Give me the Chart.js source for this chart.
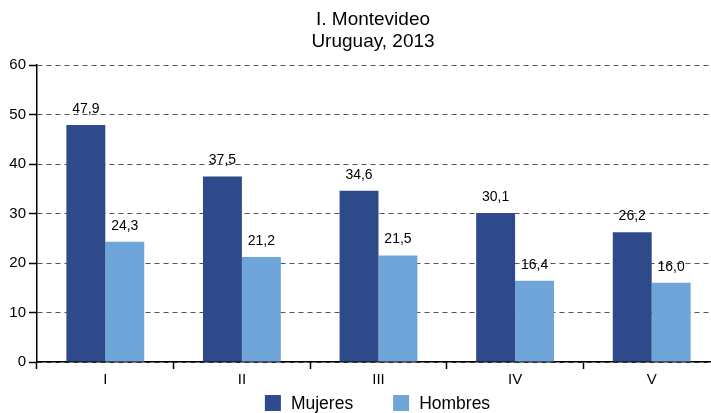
<!DOCTYPE html>
<html><head><meta charset="utf-8">
<script src="https://cdn.jsdelivr.net/npm/chart.js@4/dist/chart.umd.min.js"></script>
<style>html,body{margin:0;padding:0;background:#fff;overflow:hidden}#w{width:711px;height:413px;overflow:hidden}</style>
</head><body><div id="w"><canvas id="c" width="720" height="413"></canvas></div>
<script>
const categories = ['I','II','III','IV','V'];
const mujeres = [47.9, 37.5, 34.6, 30.1, 26.2];
const hombres = [24.3, 21.2, 21.5, 16.4, 16.0];
const yTicks = [0,10,20,30,40,50,60];
const titleLines = ['I. Montevideo','Uruguay, 2013'];
const seriesNames = ['Mujeres','Hombres'];
const seriesColors = ['#2E4A8A','#6FA5D9'];

const FONT = "'Liberation Sans', Arial, sans-serif";
const VISIBLE_WIDTH = 711;
const labelPlugin = {
  id:'vlabels',
  afterDatasetsDraw(chart){
    const ctx = chart.ctx;
    ctx.save();
    ctx.font = '14px ' + FONT;
    ctx.fillStyle = '#000';
    ctx.textAlign = 'center';
    ctx.textBaseline = 'bottom';
    chart.data.datasets.forEach((ds,i)=>{
      chart.getDatasetMeta(i).data.forEach((bar,j)=>{
        ctx.fillText(ds.data[j].toFixed(1).replace('.',','), bar.x, bar.y - 9);
      });
    });
    ctx.restore();
  }
};
const titlePlugin = {
  id:'customTitle',
  afterDraw(chart){
    const ctx = chart.ctx;
    const area = chart.chartArea;
    ctx.save();
    ctx.font = '19px ' + FONT;
    ctx.fillStyle = '#000';
    ctx.textAlign = 'center';
    ctx.textBaseline = 'middle';
    const cx = (area.left + VISIBLE_WIDTH) / 2 - 1;
    titleLines.forEach((t,i)=> ctx.fillText(t, cx, 20 + i*22));
    ctx.restore();
  }
};
const legendPlugin = {
  id:'customLegend',
  afterDraw(chart){
    const ctx = chart.ctx;
    const area = chart.chartArea;
    ctx.save();
    ctx.font = '17.5px ' + FONT;
    const box = 16, gapBT = 10, gapItems = 40;
    const items = chart.data.datasets.map(d=>({text:d.label,color:d.backgroundColor,w:ctx.measureText(d.label).width}));
    let total = items.reduce((s,it)=>s+box+gapBT+it.w,0) + gapItems*(items.length-1);
    let x = (area.left + area.right)/2 - total/2 - 1;
    const cy = 403;
    ctx.textBaseline = 'middle';
    ctx.textAlign = 'left';
    items.forEach(it=>{
      ctx.fillStyle = it.color;
      ctx.fillRect(x, cy - box/2, box, box);
      ctx.fillStyle = '#000';
      ctx.fillText(it.text, x + box + gapBT, cy + 1);
      x += box + gapBT + it.w + gapItems;
    });
    ctx.restore();
  }
};

new Chart(document.getElementById('c'), {
  type:'bar',
  data:{
    labels:categories,
    datasets:[
      {label:seriesNames[0], data:mujeres, backgroundColor:seriesColors[0]},
      {label:seriesNames[1], data:hombres, backgroundColor:seriesColors[1]}
    ]
  },
  options:{
    responsive:false,
    animation:false,
    devicePixelRatio:1,
    categoryPercentage:0.57,
    barPercentage:1,
    layout:{padding:{left:0,right:0,top:65,bottom:25}},
    plugins:{
      title:{display:false},
      legend:{display:false},
      tooltip:{enabled:false}
    },
    scales:{
      x:{
        grid:{display:true,offset:true,drawOnChartArea:false,tickLength:7,tickColor:'#000',tickWidth:1.5},
        border:{color:'#000',width:1.5},
        ticks:{color:'#000',font:{family:FONT,size:15},padding:2},
        afterFit(s){s.height = 26;}
      },
      y:{
        min:0,max:60,
        afterBuildTicks(s){s.ticks = yTicks.map(v=>({value:v}));},
        grid:{color:'#555',lineWidth:1,tickColor:'#000',tickLength:8,tickWidth:1.5},
        border:{color:'#000',width:1.5,dash:[5,4]},
        ticks:{color:'#000',font:{family:FONT,size:15},padding:3},
        afterFit(s){s.width = 37;}
      }
    }
  },
  plugins:[labelPlugin, titlePlugin, legendPlugin]
});
</script></body></html>
